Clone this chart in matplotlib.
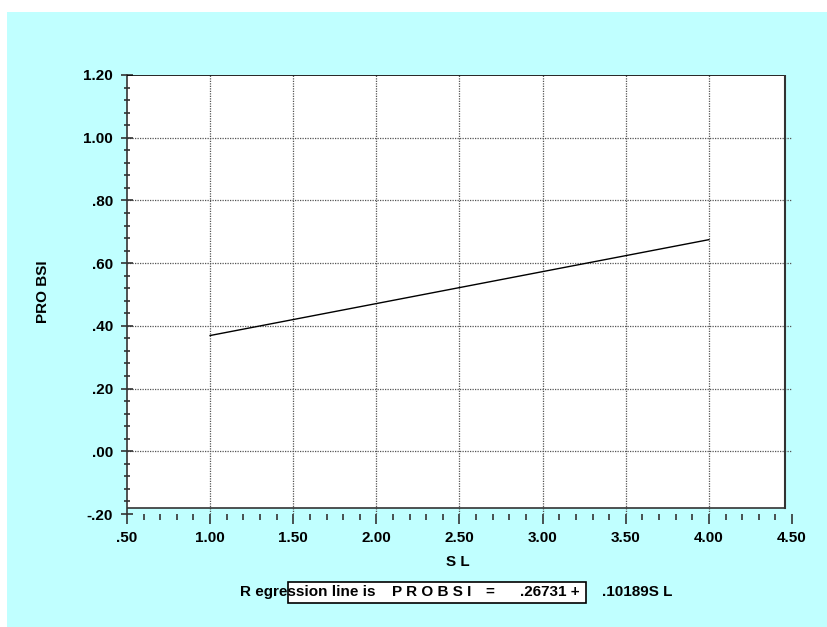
import matplotlib
matplotlib.use("Agg")
import matplotlib.pyplot as plt
import matplotlib.patches as mpatches
from matplotlib.ticker import MultipleLocator, FuncFormatter
import numpy as np

plt.rcParams['font.family'] = ['Liberation Sans', 'DejaVu Sans']
plt.rcParams['font.weight'] = 'bold'

# regression result shown under the chart
INTERCEPT = 0.26731
SLOPE = 0.10189
SL_RANGE = [1.0, 4.0]

X_LIMITS = (0.5, 4.5)
Y_LIMITS = (-0.2, 1.2)

BG = '#C0FFFF'
W, H = 828, 627
FS = 11

fig = plt.figure(figsize=(W / 100, H / 100), dpi=100, facecolor='white')

# cyan panel behind everything
fig.patches.append(mpatches.Rectangle((7 / W, 0), 1 - 7 / W, 1 - 12 / H,
                                      transform=fig.transFigure, facecolor=BG,
                                      edgecolor='none', zorder=-5))

ax = fig.add_axes([127 / W, (H - 514) / H, (792 - 127) / W, (514 - 75) / H])
ax.set_facecolor('none')
ax.set_xlim(*X_LIMITS)
ax.set_ylim(*Y_LIMITS)

# white plotting box (stops a little short of the tick rows)
px_x = (X_LIMITS[1] - X_LIMITS[0]) / (792 - 127)
px_y = (Y_LIMITS[1] - Y_LIMITS[0]) / (514 - 75)
box_right = X_LIMITS[1] - 7 * px_x
box_bottom = Y_LIMITS[0] + 6 * px_y
ax.add_patch(mpatches.Rectangle((X_LIMITS[0], box_bottom), box_right - X_LIMITS[0],
                                Y_LIMITS[1] - box_bottom, facecolor='white',
                                edgecolor='none', zorder=0.1))
ax.plot([X_LIMITS[0], box_right], [Y_LIMITS[1], Y_LIMITS[1]], color='black', lw=1.2, zorder=3)
ax.plot([box_right, box_right], [box_bottom, Y_LIMITS[1]], color='#333333', lw=1.5, zorder=3)
ax.plot([X_LIMITS[0], box_right], [box_bottom, box_bottom], color='#333333', lw=1.2, zorder=3)

for side in ('top', 'right', 'bottom'):
    ax.spines[side].set_visible(False)
ax.spines['left'].set_color('#333333')
ax.spines['left'].set_linewidth(1.2)

ax.xaxis.set_major_locator(MultipleLocator(0.5))
ax.xaxis.set_minor_locator(MultipleLocator(0.1))
ax.yaxis.set_major_locator(MultipleLocator(0.2))
ax.yaxis.set_minor_locator(MultipleLocator(0.04))


def fmt(v, pos):
    s = '%.2f' % v
    if s.startswith('0.'):
        s = s[1:]
    elif s.startswith('-0.'):
        s = '-' + s[2:]
    return s


ax.xaxis.set_major_formatter(FuncFormatter(fmt))
ax.yaxis.set_major_formatter(FuncFormatter(fmt))

ax.tick_params(axis='x', which='major', direction='out', length=7, width=1.2,
               color='#333333', pad=5, labelsize=FS)
ax.tick_params(axis='x', which='minor', direction='out', length=4.5, width=1.2,
               color='#333333')
ax.tick_params(axis='y', which='major', direction='inout', length=8, width=1.2,
               color='#333333', pad=6, labelsize=FS)
ax.tick_params(axis='y', which='minor', direction='inout', length=5, width=1.2,
               color='#333333')
for lbl in ax.get_xticklabels() + ax.get_yticklabels():
    lbl.set_fontweight('bold')

# dotted grid at interior major ticks
for gx in np.arange(1.0, 4.01, 0.5):
    ax.axvline(gx, color='#555555', lw=0.9, ls=(0, (1, 1)), zorder=1)
for gy in np.arange(0.0, 1.01, 0.2):
    ax.axhline(gy, color='#555555', lw=0.9, ls=(0, (1, 1)), zorder=1)

# fitted regression line
sl = np.array(SL_RANGE)
ax.plot(sl, INTERCEPT + SLOPE * sl, color='black', lw=1.0, zorder=4)

fig.text(458 / W, (H - 562) / H, 'S L', ha='center', va='center', fontsize=FS, fontweight='bold')
fig.text(43 / W, (H - 292) / H, 'PRO BSI', ha='center', va='center', rotation=90,
         fontsize=FS, fontweight='bold')

# regression caption, middle part framed
ty = (H - 592) / H
fig.patches.append(mpatches.Rectangle((288 / W, (H - 603) / H), (586 - 288) / W, 21 / H,
                                      transform=fig.transFigure, facecolor='white',
                                      edgecolor='black', lw=1.2, zorder=1))
fig.text(240 / W, ty, 'R egression line is', ha='left', va='center', fontsize=FS,
         fontweight='bold', zorder=2)
fig.text(392 / W, ty, 'P R O B S I', ha='left', va='center', fontsize=FS,
         fontweight='bold', zorder=2)
fig.text(485 / W, ty, '=', ha='left', va='center', fontsize=FS, fontweight='bold', zorder=2)
fig.text(580 / W, ty, ('%.5f' % INTERCEPT)[1:] + ' +', ha='right', va='center', fontsize=FS,
         fontweight='bold', zorder=2)
fig.text(602 / W, ty, ('%.5f' % SLOPE)[1:] + 'S L', ha='left', va='center', fontsize=FS,
         fontweight='bold', zorder=2)

fig.savefig('out.png', dpi=100, facecolor='white')
